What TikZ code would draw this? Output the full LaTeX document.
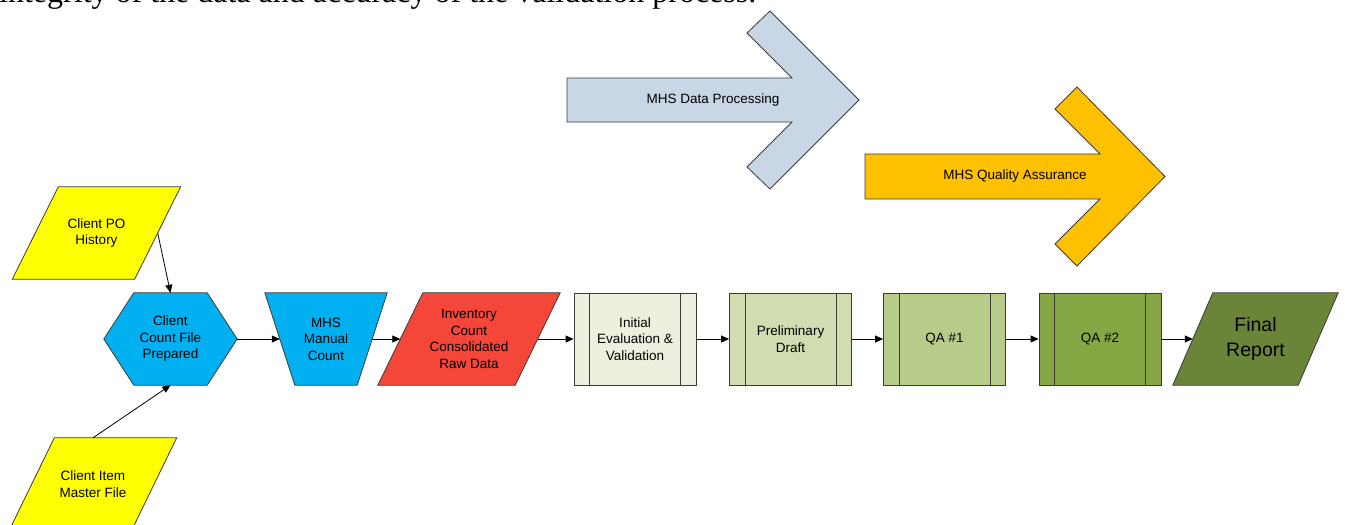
\documentclass[tikz,border=0pt]{standalone}
\usepackage{fontspec}
\setmainfont{Liberation Sans}
\newfontfamily\serifbody{Liberation Serif}
\usetikzlibrary{arrows.meta,backgrounds}
\definecolor{edge}{HTML}{3A3A3A}
\definecolor{ylw}{HTML}{FFFF00}
\definecolor{cblue}{HTML}{00B0F0}
\definecolor{cred}{HTML}{F4473A}
\definecolor{dparrow}{HTML}{C9D6E5}
\definecolor{qaarrow}{HTML}{FFC000}
\definecolor{ginit}{HTML}{EBF1DE}
\definecolor{gpre}{HTML}{CFDDB0}
\definecolor{gqa1}{HTML}{B8CC8A}
\definecolor{gqa2}{HTML}{87A745}
\definecolor{gfin}{HTML}{6A8438}
\begin{document}
\begin{tikzpicture}[x=1pt,y=-1pt,
  lbl/.style={font=\fontsize{13.5}{16.5}\selectfont, align=center, inner sep=0pt, text=black},
  bigl/.style={font=\fontsize{19.5}{24.5}\selectfont, align=center, inner sep=0pt, text=black},
  shp/.style={minimum height=92pt, inner sep=0pt},
  procbox/.style={shp, minimum width=122pt, draw=edge, line width=0.8pt},
  shapeline/.style={draw=edge, line width=0.8pt},
  conn/.style={draw=black, line width=0.8pt, -{Triangle[length=8pt,width=7pt]}},
]
\useasboundingbox (0,0) rectangle (1345,525);
\clip (0,0) rectangle (1345,525);
\begin{scope}[on background layer]
  \fill[white] (0,0) rectangle (1345,525);
\end{scope}

% cut-off line of body text
\node[font=\serifbody\fontsize{32}{38}\selectfont, anchor=base west, inner sep=0pt] (toptext) at (-1,2.5) {integrity of the data and accuracy of the validation process.};

% big phase arrows
\filldraw[fill=dparrow, shapeline] (567,78) -- (792,78) -- (747,33) -- (770,11) -- (859,100) -- (770,189) -- (747,167) -- (792,122) -- (567,122) -- cycle;
\node[lbl] (dp) at (713,100) {MHS Data Processing};
\filldraw[fill=qaarrow, shapeline] (865,154) -- (1100,154) -- (1055,109) -- (1077,87) -- (1165,176.5) -- (1077,266) -- (1055,244) -- (1100,199) -- (865,199) -- cycle;
\node[lbl] (qa) at (1015,176.5) {MHS Quality Assurance};

% inputs
\node[lbl, shp, minimum width=122pt] (po) at (96.5,233) {Client PO\\History};
\node[lbl, shp, minimum width=122pt] (item) at (93,484) {Client Item\\Master File};
\node[lbl, shp, minimum width=133pt] (hex) at (170.5,339) {Client\\Count File\\Prepared};
\node[lbl, shp, minimum width=92pt] (man) at (326,339) {MHS\\Manual\\Count};
\node[lbl, shp, minimum width=137pt] (inv) at (469,339) {Inventory\\Count\\Consolidated\\Raw Data};
\node[bigl, shp, minimum width=125pt] (fin) at (1255.5,339) {Final\\Report};

\begin{scope}[on background layer]
  \filldraw[fill=ylw, shapeline] ([xshift=23pt]po.north west) -- ([xshift=23pt]po.north east) -- ([xshift=-23pt]po.south east) -- ([xshift=-23pt]po.south west) -- cycle;
  \filldraw[fill=ylw, shapeline] ([xshift=22.5pt]item.north west) -- ([xshift=22.5pt]item.north east) -- ([xshift=-22.5pt]item.south east) -- ([xshift=-22.5pt]item.south west) -- cycle;
  \filldraw[fill=cblue, shapeline] (hex.west) -- ([xshift=30pt]hex.north west) -- ([xshift=-30pt]hex.north east) -- (hex.east) -- ([xshift=-30pt]hex.south east) -- ([xshift=30pt]hex.south west) -- cycle;
  \filldraw[fill=cblue, shapeline] ([xshift=-15pt]man.north west) -- ([xshift=15pt]man.north east) -- ([xshift=-15pt]man.south east) -- ([xshift=15pt]man.south west) -- cycle;
  \filldraw[fill=cred, shapeline] ([xshift=22.5pt]inv.north west) -- ([xshift=22.5pt]inv.north east) -- ([xshift=-22.5pt]inv.south east) -- ([xshift=-22.5pt]inv.south west) -- cycle;
  \filldraw[fill=gfin, shapeline] ([xshift=20pt]fin.north west) -- ([xshift=20pt]fin.north east) -- ([xshift=-20pt]fin.south east) -- ([xshift=-20pt]fin.south west) -- cycle;
\end{scope}

% predefined-process boxes
\node[lbl, procbox, fill=ginit] (init) at (635,339) {Initial\\Evaluation \&\\Validation};
\node[lbl, procbox, fill=gpre] (pre) at (790.5,339) {Preliminary\\Draft};
\node[lbl, procbox, fill=gqa1] (qa1) at (944.5,339) {QA \#1};
\node[lbl, procbox, fill=gqa2] (qa2) at (1100,339) {QA \#2};
\foreach \b in {init,pre,qa1,qa2}{
  \draw[shapeline] ([xshift=16pt]\b.north west) -- ([xshift=16pt]\b.south west);
  \draw[shapeline] ([xshift=-16pt]\b.north east) -- ([xshift=-16pt]\b.south east);
}

% connectors
\draw[conn] (po.east) -- (hex.north);
\draw[conn] (item.north) -- (hex.south);
\draw[conn] (hex.east) -- (man.west);
\draw[conn] (man.east) -- (inv.west);
\draw[conn] (inv.east) -- (init.west);
\draw[conn] (init.east) -- (pre.west);
\draw[conn] (pre.east) -- (qa1.west);
\draw[conn] (qa1.east) -- (qa2.west);
\draw[conn] (qa2.east) -- (fin.west);
\end{tikzpicture}
\end{document}
